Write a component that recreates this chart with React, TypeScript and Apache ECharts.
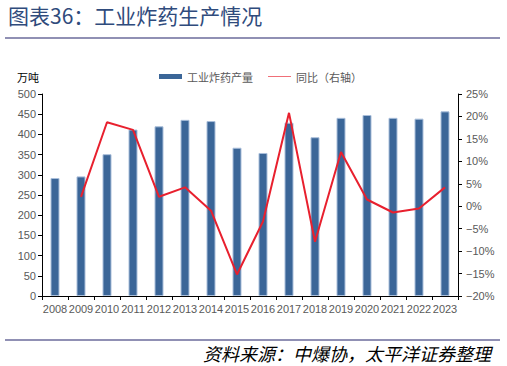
import React, { useEffect, useRef } from "react";
import * as echarts from "echarts";

const years = ["2008","2009","2010","2011","2012","2013","2014","2015","2016","2017","2018","2019","2020","2021","2022","2023"];
const output = [292, 296, 351, 412, 420, 436, 433, 367, 354, 429, 393, 441, 448, 441, 439, 457];
const yoy = [null, 2.1, 18.7, 17.0, 2.1, 4.2, -1.0, -15.2, -3.4, 20.8, -7.9, 12.1, 1.5, -1.4, -0.5, 4.2];
const leftTicks = { min: 0, max: 500, interval: 50 };
const rightTicks = { min: -20, max: 25, interval: 5 };

const CJK = '"Noto Sans CJK SC", sans-serif';
const LAT = '"Liberation Sans", Arial, sans-serif';

export default function App() {
  const ref = useRef<HTMLDivElement>(null);
  useEffect(() => {
    const chart = echarts.init(ref.current!, null, { renderer: "svg" });
    chart.setOption({
      animation: false,
      backgroundColor: "#ffffff",
      grid: { left: 42, right: 49, top: 94, bottom: 70 },
      legend: {
        left: 154,
        top: 66,
        itemGap: 15,
        itemWidth: 23,
        itemHeight: 5,
        textStyle: { fontFamily: CJK, fontSize: 11, color: "#595959" },
        data: [
          { name: "工业炸药产量", icon: "rect", itemStyle: { color: "#3B6698", borderWidth: 0 } },
          {
            name: "同比（右轴）",
            icon: "path://M0,0L0,0M0,10L0,10M0,3.6L100,3.6L100,6.4L0,6.4Z",
            itemStyle: { color: "#E8202E", borderWidth: 0 },
          },
        ],
      },
      xAxis: {
        type: "category",
        data: years,
        axisLine: { lineStyle: { color: "#000000", width: 1 } },
        axisTick: { show: true, length: 4, lineStyle: { color: "#000000" } },
        axisLabel: { fontFamily: LAT, fontSize: 11, color: "#595959", margin: 7, interval: 0 },
      },
      yAxis: [
        {
          type: "value",
          ...leftTicks,
          splitLine: { show: false },
          axisLine: { show: true, lineStyle: { color: "#000000" } },
          axisTick: { show: true, length: 4, lineStyle: { color: "#000000" } },
          axisLabel: { fontFamily: LAT, fontSize: 11, color: "#595959", margin: 6 },
        },
        {
          type: "value",
          ...rightTicks,
          position: "right",
          splitLine: { show: false },
          axisLine: { show: true, lineStyle: { color: "#000000" } },
          axisTick: { show: true, length: 4, lineStyle: { color: "#000000" } },
          axisLabel: {
            fontFamily: LAT,
            fontSize: 11,
            color: "#595959",
            margin: 8,
            formatter: (v: number) => (v < 0 ? "\u2212" + Math.abs(v) : String(v)) + "%",
          },
        },
      ],
      series: [
        {
          name: "工业炸药产量",
          type: "bar",
          data: output,
          barWidth: 9,
          itemStyle: { color: "#3B6698", borderColor: "#A9BEDA", borderWidth: 1 },
        },
        {
          name: "同比（右轴）",
          type: "line",
          yAxisIndex: 1,
          data: yoy,
          symbol: "none",
          lineStyle: { color: "#E8202E", width: 2 },
          itemStyle: { color: "#E8202E" },
        },
      ],
      graphic: [
        {
          type: "text",
          left: 8,
          top: 4,
          style: { text: "图表36：工业炸药生产情况", fontFamily: CJK, fontSize: 21, fill: "#2F4B7C" },
        },
        { type: "line", shape: { x1: 5, y1: 38, x2: 500, y2: 38 }, style: { stroke: "#9090B4", lineWidth: 2 } },
        { type: "line", shape: { x1: 5, y1: 340, x2: 500, y2: 340 }, style: { stroke: "#9090B4", lineWidth: 2 } },
        {
          type: "text",
          left: 17,
          top: 71,
          style: { text: "万吨", fontFamily: CJK, fontSize: 11, fill: "#000000" },
        },
        {
          type: "text",
          right: 16,
          top: 344,
          style: { text: "资料来源：中爆协，太平洋证券整理", fontFamily: CJK, fontSize: 18, fontStyle: "italic", fill: "#000000" },
        },
      ],
    });
    return () => chart.dispose();
  }, []);
  return <div ref={ref} style={{ width: 507, height: 366, position: "absolute", left: 0, top: 0 }} />;
}
